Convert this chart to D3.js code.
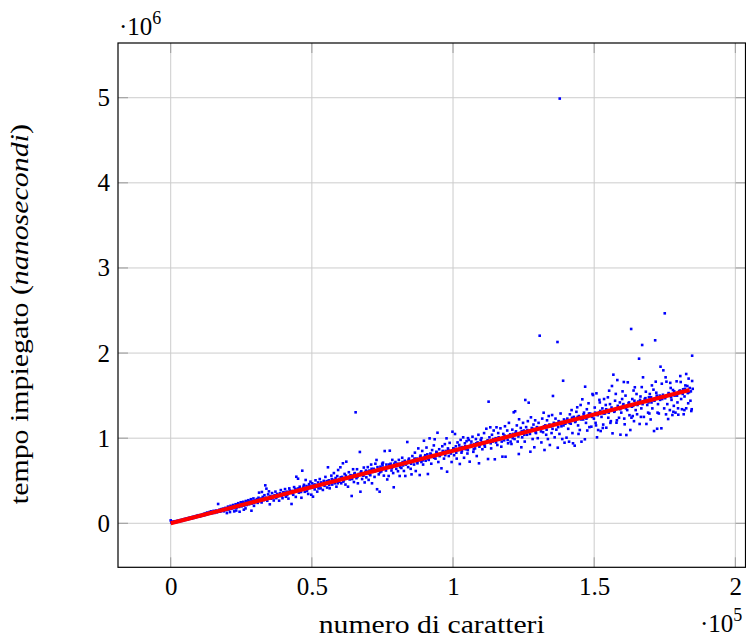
<!DOCTYPE html>
<html>
<head>
<meta charset="utf-8">
<script src="https://cdn.jsdelivr.net/npm/d3@7"></script>
<style>
  html, body { margin: 0; padding: 0; background: #ffffff; }
  svg { display: block; }
  text { font-family: "Liberation Serif", "DejaVu Serif", serif; fill: #000; }
</style>
</head>
<body>
<svg id="chart" width="746" height="639"></svg>
<script>
// Measured samples: [characters (thousands), time (thousands of ns)]
const campioni = [
  [0.0,34],[0.2,12],[0.4,6],[0.6,18],[0.9,9],[1.1,22],[1.3,8],[1.6,16],[1.8,25],[2.0,14],[2.3,20],[2.5,31],[2.8,19],[3.0,29],[3.2,24],[3.5,38],[3.7,27],[4.0,41],[4.2,30],[4.5,47],[4.7,36],[5.0,52],[5.2,40],[5.5,43],[5.7,58],[6.0,47],[6.2,61],[6.5,50],[6.7,66],[7.0,55],[7.2,70],[7.5,59],[7.7,74],[8.0,62],[8.2,78],[8.5,69],[8.7,83],[9.0,71],[9.3,90],[9.6,77],[9.9,95],
  [10.1,92],[10.4,80],[10.7,99],[11.0,88],[11.3,104],[11.5,90],[11.8,112],[12.1,97],[12.4,118],[12.6,101],[12.9,126],[13.2,108],[13.5,121],[13.8,133],[14.0,113],[14.3,140],[14.6,118],[14.9,131],[15.2,146],[15.5,122],[15.8,138],[16.1,150],[16.4,129],[16.8,227],[17.0,143],[17.3,160],[17.6,137],[17.9,166],[18.2,150],[18.5,172],[18.8,141],[19.1,168],[19.4,181],[19.7,155],[19.9,120],[20.0,176],[20.3,196],[20.6,162],[20.9,184],[21.0,132],[21.2,205],[21.5,170],[21.8,193],[22.1,215],[22.4,178],[22.5,140],[22.7,201],[23.0,224],[23.2,150],[23.3,183],[23.6,209],[23.9,236],[24.2,192],[24.4,136],[24.5,219],[24.8,247],[25.1,199],[25.4,226],[25.7,252],[25.9,160],[26.0,208],[26.3,237],[26.5,175],[26.6,262],[26.9,215],[27.2,248],[27.5,271],[27.8,224],[28.1,255],[28.4,283],[28.6,148],[28.7,232],[29.0,262],[29.3,292],[29.5,205],[29.6,240],[29.9,268],
  [30.2,258],[30.5,285],[30.8,240],[31.1,300],[31.3,360],[31.6,262],[31.9,290],[32.2,245],[32.3,368],[32.6,310],[32.9,272],[33.2,330],[33.5,446],[33.7,300],[33.9,407],[34.2,265],[34.5,340],[34.8,375],[35.1,223],[35.3,320],[35.6,289],[35.9,355],[36.2,310],[36.5,268],[36.8,330],[37.1,372],[37.4,296],[37.7,345],[38.0,318],[38.4,266],[38.7,352],[39.0,390],[39.3,320],[39.6,295],[39.9,365],[40.2,338],[40.5,402],[40.8,312],[41.1,371],[41.4,345],[41.7,290],[42.0,410],[42.4,360],[42.8,227],[43.1,380],[43.4,335],[43.7,425],[44.0,372],[44.3,310],[44.5,547],[44.8,395],[45.1,524],[45.4,360],[45.7,430],[46.0,392],[46.3,300],[46.6,618],[46.9,415],[47.2,452],[47.5,370],[47.8,509],[48.1,438],[48.4,402],[48.7,345],[49.0,460],[49.3,415],[49.5,489],[49.8,336],
  [50.1,470],[50.4,313],[50.7,452],[51.0,398],[51.3,505],[51.6,430],[51.9,372],[52.2,480],[52.5,445],[52.8,520],[53.1,410],[53.4,462],[53.9,392],[54.2,498],[54.5,440],[54.8,545],[55.1,470],[55.4,420],[55.7,658],[56.0,505],[56.3,411],[56.6,478],[56.9,560],[57.2,455],[57.5,510],[57.8,590],[58.1,470],[58.4,532],[58.7,430],[59.0,555],[59.3,626],[59.6,488],[59.9,520],[60.1,658],[60.4,470],[60.7,545],[61.0,705],[61.3,505],[61.6,580],[61.9,455],[62.2,724],[62.5,540],[62.8,430],[63.1,600],[63.4,515],[63.7,565],[64.1,321],[64.4,560],[64.6,635],[64.9,485],[65.2,590],[65.5,1304],[65.8,530],[66.0,635],[66.3,470],[66.6,580],[67.0,838],[67.2,371],[67.5,610],[67.8,520],[68.1,565],[68.4,655],[68.7,480],[69.0,600],[69.3,540],[69.5,606],[69.8,660],[70.1,510],[70.4,620],[70.7,565],[71.0,690],[71.3,470],[71.6,605],[71.9,640],[72.2,545],[72.5,700],[72.9,744],[73.1,400],[73.4,620],[73.7,575],[74.0,371],[74.3,665],[74.6,610],[74.9,700],[75.2,712],[75.5,560],[75.8,849],[76.1,640],[76.4,690],[76.7,515],[77.0,660],[77.2,556],[77.6,853],[77.9,700],[78.2,620],[78.5,745],[78.8,590],[79.0,423],[79.3,680],[79.6,720],[79.9,640],
  [80.2,690],[80.5,612],[80.8,745],[81.1,556],[81.4,700],[81.7,650],[82.0,770],[82.3,680],[82.6,615],[82.9,735],[83.1,556],[83.4,700],[83.8,955],[84.1,660],[84.4,760],[84.7,720],[85.0,640],[85.3,575],[85.6,790],[85.9,735],[86.2,690],[86.5,830],[86.8,614],[87.1,760],[87.4,705],[87.7,880],[88.0,740],[88.2,567],[88.5,795],[88.8,720],[89.1,850],[89.4,690],[89.7,970],[90.0,780],[90.3,735],[90.6,890],[90.9,810],[91.1,579],[91.4,745],[91.7,998],[92.0,820],[92.3,700],[92.6,860],[92.9,780],[93.2,915],[93.5,987],[93.8,760],[94.1,840],[94.5,1064],[94.8,720],[95.1,870],[95.4,800],[95.9,646],[96.2,905],[96.5,825],[96.8,760],[97.1,930],[97.4,850],[97.7,998],[97.9,606],[98.2,880],[98.5,790],[98.8,945],[99.1,840],[99.5,720],[99.8,1076],[100.1,880],[100.4,800],[100.7,1049],[101.0,905],[101.3,760],[101.6,950],[101.9,860],[102.2,920],[102.4,697],[102.7,980],[103.0,830],[103.3,895],[103.6,1010],[103.9,770],[104.2,940],[104.5,870],[104.8,965],[105.1,820],[105.3,1000],[105.6,979],[105.9,724],[106.2,900],[106.5,960],[106.9,1017],[107.2,840],[107.5,930],[107.8,880],[108.1,990],[108.4,790],[108.7,950],[109.0,1040],[109.2,705],[109.5,920],[109.8,980],
  [110.1,1000],[110.4,870],[110.7,945],[111.0,1060],[111.3,900],[111.8,1111],[112.1,960],[112.4,755],[112.6,1429],[112.9,1010],[113.2,1128],[113.5,880],[113.8,1040],[114.1,960],[114.4,1090],[114.8,752],[115.1,1000],[115.4,1128],[115.7,920],[116.0,1060],[116.3,980],[116.8,1116],[117.1,900],[117.5,783],[117.8,1050],[118.1,975],[118.4,1140],[118.6,782],[118.9,1010],[119.2,1090],[119.5,940],[119.8,1180],[120.1,1030],[120.4,960],[120.7,932],[121.0,1100],[121.3,1050],[121.5,1304],[121.8,990],[122.0,1316],[122.3,1080],[122.6,1150],[122.9,960],[123.3,814],[123.4,1222],[123.7,1060],[124.0,1120],[124.2,893],[124.5,1010],[124.8,1180],[125.1,1090],[125.4,960],[125.6,1449],[125.9,1130],[126.2,1040],[126.5,1200],[126.8,1417],[127.1,1080],[127.4,841],[127.6,1245],[127.9,1120],[128.2,990],[128.5,1160],[128.8,893],[129.1,1210],[129.4,1060],[129.7,1130],[130.0,1000],[130.3,1180],[130.7,2204],[131.0,1110],[131.3,950],[131.6,1230],[131.9,1070],[132.1,1299],[132.4,861],[132.7,1150],[133.0,1040],[133.3,1210],[133.6,990],[133.9,1260],[134.3,920],[134.6,1140],[134.9,1060],[135.1,1272],[135.4,1496],[135.7,1180],[136.0,1010],[136.3,1230],[136.6,1100],[137.0,2130],[137.1,888],[137.4,1200],[137.7,1050],[137.8,4990],[138.1,1290],[138.4,1140],[138.7,990],[139.0,1675],[139.3,1220],[139.5,947],[139.8,1170],
  [140.2,1006],[140.5,1230],[140.8,1110],[141.1,959],[141.4,1280],[141.7,1170],[142.0,1330],[142.3,1060],[142.5,940],[142.8,1250],[143.1,912],[143.4,1200],[143.7,1310],[144.0,1363],[144.3,1150],[144.6,1260],[144.9,1096],[145.2,1390],[145.5,959],[145.8,1457],[146.1,1220],[146.4,1300],[146.7,987],[146.8,1605],[147.1,1180],[147.4,1340],[147.7,1250],[148.0,1410],[148.3,1130],[148.6,1290],[149.0,1135],[149.4,1519],[149.6,1507],[149.9,1230],[150.2,1360],[150.5,1180],[150.8,1527],[151.0,1010],[151.4,1096],[151.7,1300],[152.0,1420],[152.3,1084],[152.6,1250],[152.9,1350],[153.2,1160],[153.5,1460],[153.8,1290],[154.1,1390],[154.3,1123],[154.6,1330],[155.0,1240],[155.3,1558],[155.6,1400],[155.9,1200],[156.3,1613],[156.5,1057],[156.8,1746],[157.1,1310],[157.4,1440],[157.9,1182],[158.2,1683],[158.5,1350],[158.8,1240],[159.1,1420],[159.3,1041],[159.6,1300],[159.9,1460],[160.2,1380],[160.5,1660],[160.8,1163],[161.1,1500],[161.4,1037],[161.7,1330],[161.9,1656],[162.2,1410],[162.5,1270],[162.8,1096],[163.1,2283],[163.2,1241],[163.5,1460],[163.8,1380],[164.1,1200],[164.4,1598],[164.7,1330],[165.0,1519],[165.2,1281],[165.6,1430],[165.9,1934],[166.1,1167],[166.4,1490],[166.7,1350],[167.0,2095],[167.3,1715],[167.6,1250],[167.9,1460],[168.3,1546],[168.5,1167],[168.8,1390],[169.1,1300],[169.4,1480],[169.7,1519],[170.0,1220],[170.3,1420],[170.6,1350],[171.0,1570],[171.2,1084],[171.6,2150],[171.8,1664],[172.0,1534],[172.3,1111],[172.6,1400],[172.9,1290],[173.2,1500],[173.5,1840],[173.8,1116],[174.1,1460],[174.5,1797],[174.8,1350],[175.0,2467],[175.3,1715],[175.6,1664],[175.9,1400],[176.2,1225],[176.5,1520],[176.8,1330],[177.1,1590],[177.4,1450],[177.7,1272],[177.9,1566],[178.2,1380],[178.5,1500],[178.8,1300],[179.2,1668],[179.5,1420],[179.7,1351],[179.8,1276],[180.1,1550],[180.5,1730],[180.8,1460],[181.1,1340],[181.5,1574],[181.7,1281],[182.0,1490],[182.3,1620],[182.6,1754],[182.6,1351],[183.0,1613],[183.3,1410],[183.6,1540],[184.1,1440],[184.4,1319],[184.7,1672],[184.7,1969],[184.9,1580],
  [40.35,360],[41.25,330],[42.15,385],[43.25,352],[44.15,405],[45.25,410],[46.15,368],[47.05,430],[48.25,380],[49.15,440],[50.25,420],[51.15,455],[52.35,410],[53.25,480],[54.35,470],[55.25,495],[56.15,450],[57.05,520],[58.25,505],[59.15,470],[60.25,540],[61.15,490],[62.05,560],[63.25,545],[64.25,520],[65.05,580],[66.15,545],[67.35,600],[68.25,560],[69.15,620],[70.25,580],[71.15,640],[72.35,610],[73.25,660],[74.15,600],[75.05,680],[76.25,620],[77.35,690],[78.35,650],[79.15,700],
  [80.35,700],[81.25,660],[82.15,720],[83.25,690],[84.25,745],[85.15,700],[86.35,760],[87.25,720],[88.35,780],[89.25,740],[90.15,800],[91.25,760],[92.15,810],[93.35,770],[94.25,830],[95.25,790],[96.35,850],[97.25,800],[98.35,860],[99.25,820],[100.25,875],[101.15,830],[102.35,890],[103.15,850],[104.35,905],[105.25,860],[106.35,925],[107.35,870],[108.25,940],[109.35,900],[110.25,955],[111.15,920],[112.25,975],[113.35,940],[114.25,990],[115.25,950],[116.15,1010],[117.25,960],[118.25,1030],[119.35,980],[120.25,1045],[121.15,1000],[122.15,1060],[123.15,1020],[124.35,1080],[125.25,1040],[126.35,1095],[127.25,1050],[128.35,1110],[129.25,1070],[130.15,1120],[131.15,1080],[132.25,1140],[133.15,1100],[134.15,1160],[135.25,1110],[136.15,1170],[137.25,1130],[138.25,1190],[139.15,1150],
  [140.35,1210],[141.25,1180],[142.15,1240],[143.25,1190],[144.15,1250],[145.35,1220],[146.25,1280],[147.25,1230],[148.15,1290],[149.25,1250],[150.35,1300],[151.25,1270],[152.15,1320],[153.35,1290],[154.25,1340],[155.15,1300],[156.15,1360],[157.25,1320],[158.35,1380],[159.25,1340],[160.35,1400],[161.25,1350],[162.35,1420],[163.35,1370],[164.25,1440],[165.35,1390],[166.25,1450],[167.15,1400],[168.15,1470],[169.25,1420],[170.15,1480],[171.35,1440],[172.15,1500],[173.35,1450],[174.35,1510],[175.15,1470],[176.35,1530],[177.25,1480],[178.35,1550],[179.35,1500],[180.35,1560],[181.35,1520],[182.15,1580],[183.15,1530],[183.85,1590],[184.25,1550],
  [144.45,1050],[147.55,1090],[150.65,1150],[153.05,1120],[155.75,1180],[158.05,1210],[160.65,1230],[163.65,1260],[166.55,1250],[169.55,1290],[172.45,1300],[175.45,1280],[178.05,1310],[181.95,1330],[184.55,1340],
  [151.85,1450],[154.85,1480],[157.65,1520],[160.05,1550],[163.95,1560],[166.85,1600],[170.45,1620],[173.95,1640],[176.95,1650],[180.65,1660],[183.45,1700]
];

// Linear fit endpoints: [characters, ns]
const rettaX = [0, 183800];
const rettaY = [0, 1566000];

// Tick values and labels
const xTicks = [0, 50000, 100000, 150000, 200000];
const xTickLabels = ["0", "0.5", "1", "1.5", "2"];
const yTicks = [0, 1e6, 2e6, 3e6, 4e6, 5e6];
const yTickLabels = ["0", "1", "2", "3", "4", "5"];

const xTitle = "numero di caratteri";
const yTitle = "tempo impiegato (";
const yTitleItalic = "nanosecondi";

const box = { left: 118, right: 745.5, top: 43, bottom: 567.3 };

const x = d3.scaleLinear().domain([-18670, 203600]).range([box.left, box.right]);
const y = d3.scaleLinear().domain([-517000, 5643000]).range([box.bottom, box.top]);

const svg = d3.select("#chart");

// grid
const grid = svg.append("g");
grid.selectAll("line.gx").data(xTicks).join("line")
  .attr("x1", d => x(d)).attr("x2", d => x(d))
  .attr("y1", box.top).attr("y2", box.bottom)
  .attr("stroke", "#cccccc").attr("stroke-width", 1);
grid.selectAll("line.gy").data(yTicks).join("line")
  .attr("y1", d => y(d)).attr("y2", d => y(d))
  .attr("x1", box.left).attr("x2", box.right)
  .attr("stroke", "#cccccc").attr("stroke-width", 1);

// inner tick marks on all four sides
const tickLen = 10;
const tk = svg.append("g").attr("stroke", "#9a9a9a").attr("stroke-width", 1);
xTicks.forEach(t => {
  tk.append("line").attr("x1", x(t)).attr("x2", x(t)).attr("y1", box.bottom).attr("y2", box.bottom - tickLen);
  tk.append("line").attr("x1", x(t)).attr("x2", x(t)).attr("y1", box.top).attr("y2", box.top + tickLen);
});
yTicks.forEach(t => {
  tk.append("line").attr("y1", y(t)).attr("y2", y(t)).attr("x1", box.left).attr("x2", box.left + tickLen);
  tk.append("line").attr("y1", y(t)).attr("y2", y(t)).attr("x1", box.right).attr("x2", box.right - tickLen);
});

// scatter points
svg.append("g").selectAll("rect").data(campioni).join("rect")
  .attr("x", d => x(d[0] * 1000) - 1.3)
  .attr("y", d => y(d[1] * 1000) - 1.3)
  .attr("width", 2.6).attr("height", 2.6)
  .attr("fill", "#0000ff");

// regression line
const retta = rettaX.map((v, i) => [v, rettaY[i]]);
svg.append("path").datum(retta)
  .attr("d", d3.line().x(d => x(d[0])).y(d => y(d[1])))
  .attr("fill", "none").attr("stroke", "#ff0000").attr("stroke-width", 4);

// frame
svg.append("rect")
  .attr("x", box.left).attr("y", box.top)
  .attr("width", box.right - box.left).attr("height", box.bottom - box.top)
  .attr("fill", "none").attr("stroke", "#000").attr("stroke-width", 1.2);

// axis labels
const xAxis = d3.axisBottom(x).tickValues(xTicks)
  .tickFormat((d, i) => xTickLabels[i]).tickSize(0).tickPadding(10);
const gx = svg.append("g").attr("transform", `translate(0,${box.bottom})`).call(xAxis);
gx.select(".domain").remove();
gx.selectAll("text").attr("font-family", "Liberation Serif").attr("font-size", 25).attr("fill", "#000");

const yAxis = d3.axisLeft(y).tickValues(yTicks)
  .tickFormat((d, i) => yTickLabels[i]).tickSize(0).tickPadding(8);
const gy = svg.append("g").attr("transform", `translate(${box.left},0)`).call(yAxis);
gy.select(".domain").remove();
gy.selectAll("text").attr("font-family", "Liberation Serif").attr("font-size", 25).attr("fill", "#000");

// scale multipliers
const m6 = svg.append("text").attr("x", 119).attr("y", 35).attr("font-size", 25);
m6.append("tspan").text("·10");
m6.append("tspan").attr("font-size", 18).attr("dy", -11).text("6");

const m5 = svg.append("text").attr("x", 700).attr("y", 632).attr("font-size", 25);
m5.append("tspan").text("·10");
m5.append("tspan").attr("font-size", 18).attr("dy", -11).text("5");

// axis titles
svg.append("text")
  .attr("x", (box.left + box.right) / 2).attr("y", 633)
  .attr("text-anchor", "middle").attr("font-size", 26)
  .attr("textLength", 226).attr("lengthAdjust", "spacingAndGlyphs")
  .text(xTitle);

const yt = svg.append("text")
  .attr("transform", `translate(28,${(box.top + box.bottom) / 2 + 9}) rotate(-90)`)
  .attr("text-anchor", "middle").attr("font-size", 26)
  .attr("textLength", 380).attr("lengthAdjust", "spacingAndGlyphs");
yt.append("tspan").text(yTitle);
yt.append("tspan").attr("font-style", "italic").text(yTitleItalic);
yt.append("tspan").text(")");
</script>
</body>
</html>
